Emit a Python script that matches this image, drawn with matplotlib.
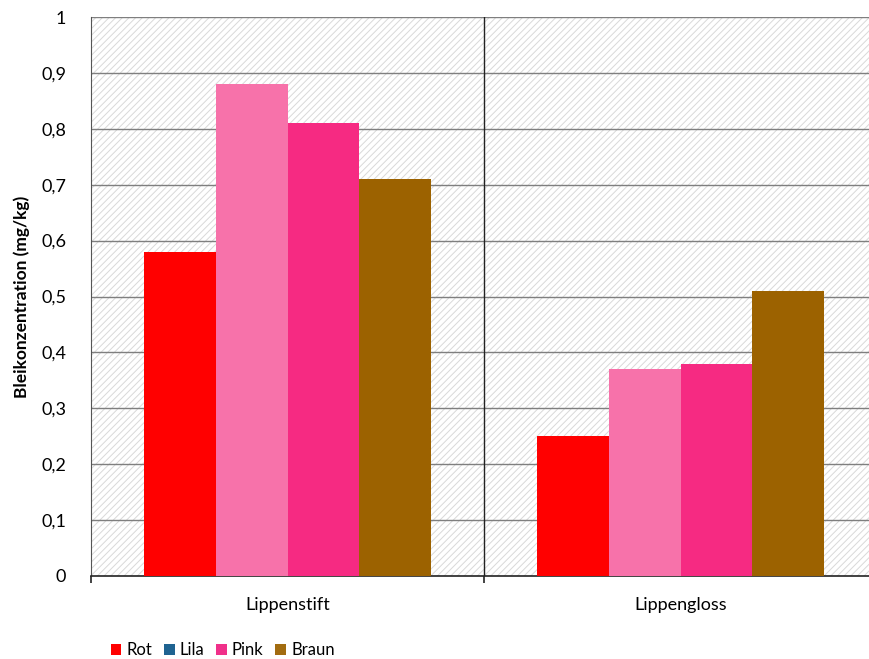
import numpy as np
import matplotlib.pyplot as plt
from matplotlib.patches import Rectangle, Patch

plt.rcParams['font.family'] = ['Lato', 'DejaVu Sans']
plt.rcParams['hatch.linewidth'] = 0.7

categories = ['Lippenstift', 'Lippengloss']
series = ['Rot', 'Lila', 'Pink', 'Braun']
values = {
    'Rot': [0.58, 0.25],
    'Lila': [0.88, 0.37],
    'Pink': [0.81, 0.38],
    'Braun': [0.71, 0.51],
}
bar_colors = ['#ff0000', '#f772aa', '#f62a82', '#9c6200']
legend_colors = ['#ff0000', '#1f6391', '#f0308a', '#a26c10']
yticks = np.arange(0, 1.01, 0.1)
ytick_labels = ['0', '0,1', '0,2', '0,3', '0,4', '0,5', '0,6', '0,7', '0,8', '0,9', '1']

fig = plt.figure(figsize=(8.69, 6.59), dpi=100)
ax = fig.add_axes([91 / 869, 1 - 576 / 659, 786 / 869, 559 / 659])

# hatched plot-area background
bg = Rectangle((0, 0), 1, 1, transform=ax.transAxes, facecolor='white',
               edgecolor='#d9d9d9', linewidth=0, hatch='/////', zorder=0)
ax.add_patch(bg)

x = np.arange(len(categories)) + 0.5
width = 0.182
for i, (name, col) in enumerate(zip(series, bar_colors)):
    offset = (i - 1.5) * width
    ax.bar(x + offset, values[name], width, color=col, zorder=3)

for y in yticks[1:]:
    ax.axhline(y, color='#7f7f7f', linewidth=1, zorder=1)
ax.axvline(1, color='#222222', linewidth=1, zorder=2)

ax.set_xlim(0, 2)
ax.set_ylim(0, 1)
ax.set_yticks(yticks)
ax.set_yticklabels(ytick_labels, fontsize=13)
ax.tick_params(axis='y', length=0, pad=18)

ax.set_xticks([0, 1, 2])
ax.set_xticklabels(['', '', ''])
ax.tick_params(axis='x', which='major', direction='out', length=5, width=1.2, color='#222222')
ax.set_xticks(x, minor=True)
ax.set_xticklabels(categories, minor=True, fontsize=13)
ax.tick_params(axis='x', which='minor', length=0, pad=15)

ax.set_ylabel('Bleikonzentration (mg/kg)', fontsize=12.5, fontweight='bold', labelpad=8)

for s in ['top', 'right']:
    ax.spines[s].set_visible(False)
ax.spines['left'].set_color('#555555')
ax.spines['bottom'].set_color('#222222')
ax.spines['bottom'].set_linewidth(1.2)

handles = [Patch(facecolor=c, edgecolor='none') for c in legend_colors]
fig.legend(handles, series, loc='lower left', bbox_to_anchor=(0.110, -0.022), ncol=4,
           frameon=False, handlelength=0.65, handleheight=0.65, handletextpad=0.3,
           columnspacing=0.7, fontsize=12)

fig.savefig('out.png', dpi=100)
